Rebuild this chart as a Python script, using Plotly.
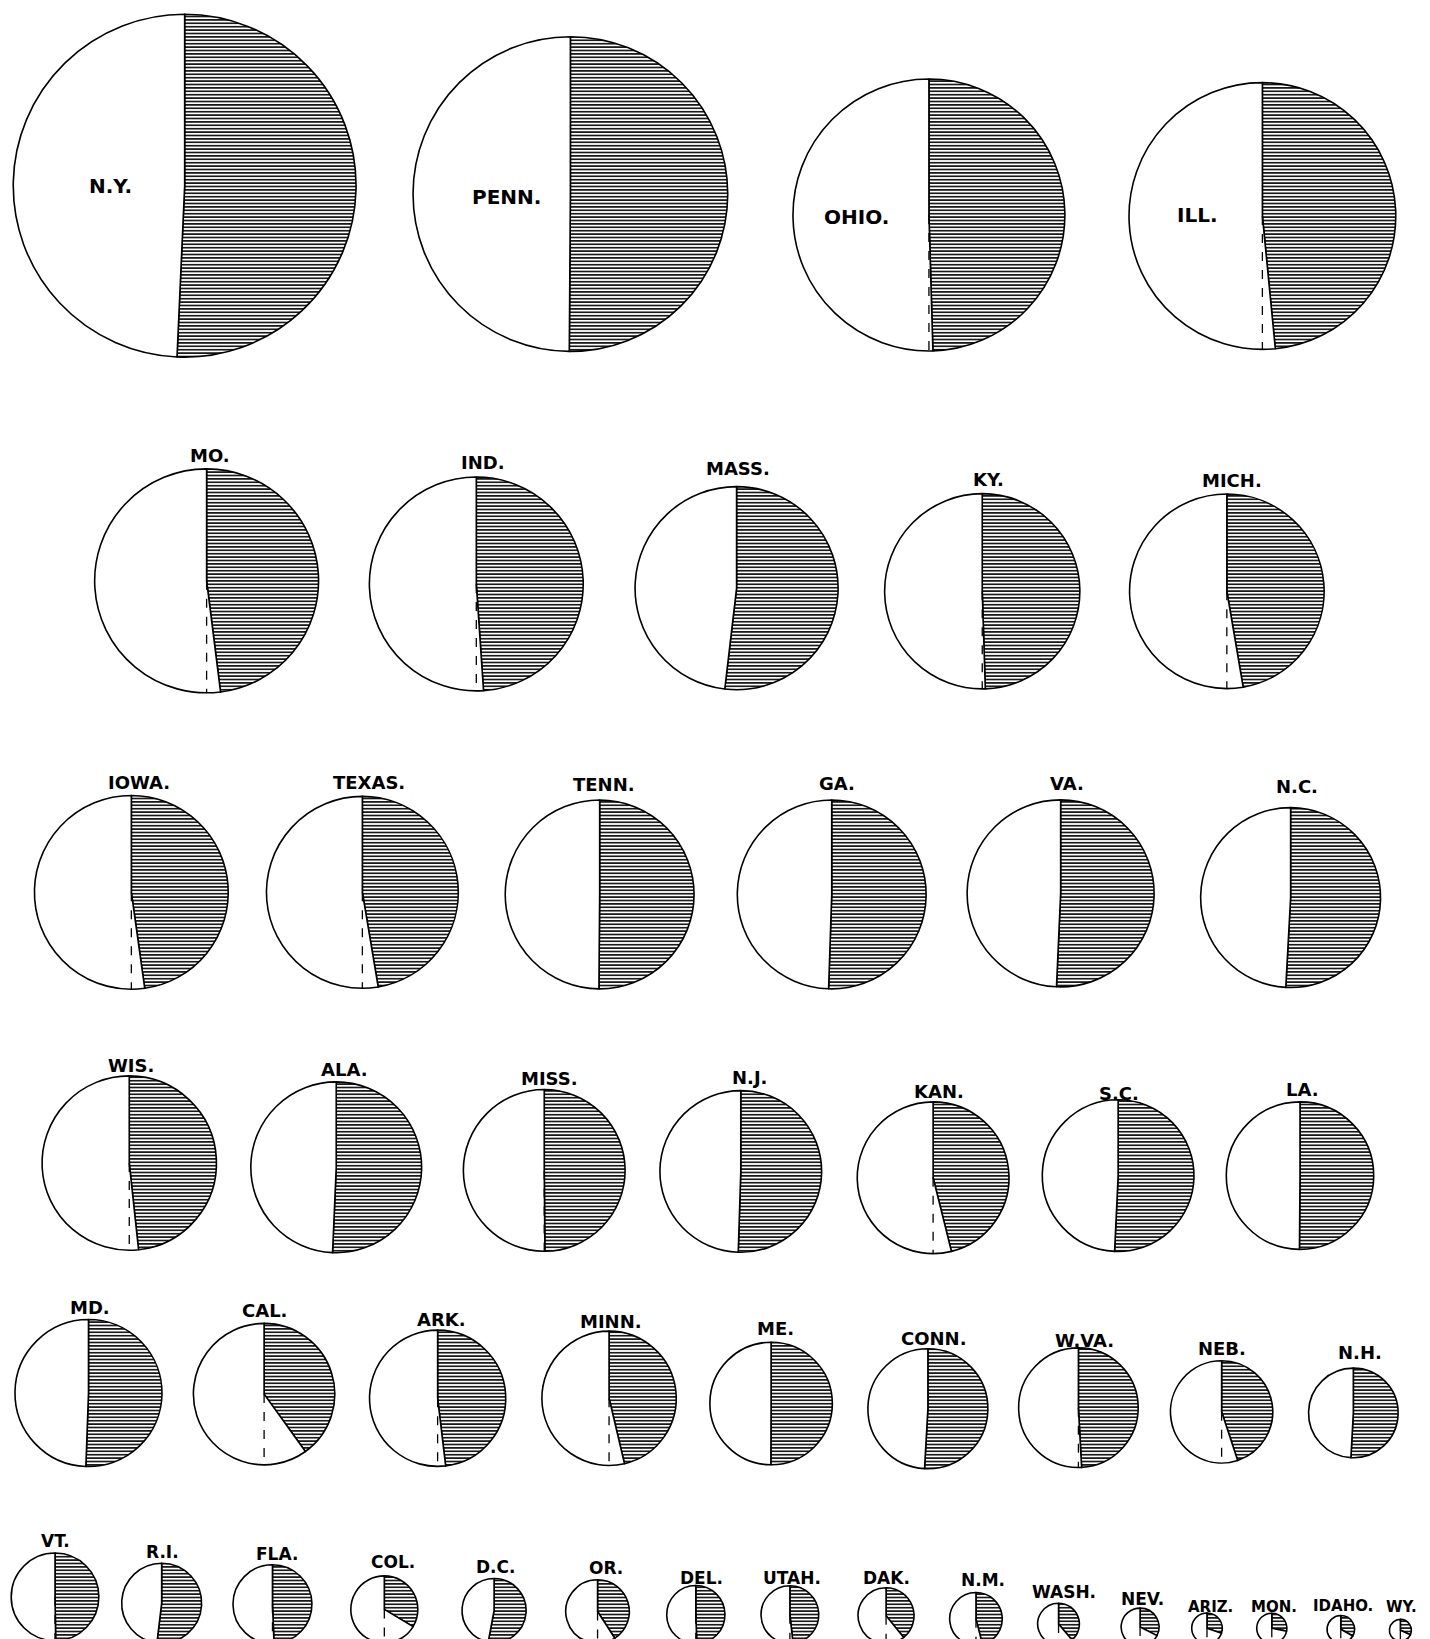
import plotly.graph_objects as go
import math

# ---- data (1880 census, thousands) ----
states = ["N.Y.", "PENN.", "OHIO.", "ILL.", "MO.", "IND.", "MASS.", "KY.", "MICH.",
          "IOWA.", "TEXAS.", "TENN.", "GA.", "VA.", "N.C.",
          "WIS.", "ALA.", "MISS.", "N.J.", "KAN.", "S.C.", "LA.",
          "MD.", "CAL.", "ARK.", "MINN.", "ME.", "CONN.", "W.VA.", "NEB.", "N.H.",
          "VT.", "R.I.", "FLA.", "COL.", "D.C.", "OR.", "DEL.", "UTAH.", "DAK.", "N.M.",
          "WASH.", "NEV.", "ARIZ.", "MON.", "IDAHO.", "WY."]
male = [2505.3, 2136.7, 1613.9, 1586.5, 1127.2, 1010.4, 858.4, 832.6, 862.4,
        848.1, 837.8, 769.3, 763.0, 745.6, 687.9,
        680.1, 622.6, 567.2, 559.9, 536.7, 490.4, 468.8,
        462.2, 518.2, 416.3, 419.1, 324.1, 305.8, 314.5, 249.2, 170.5,
        166.9, 133.0, 136.4, 129.1, 83.6, 103.4, 74.1, 74.5, 82.3, 64.5,
        46.0, 42.0, 28.2, 28.2, 21.8, 14.2]
female = [2577.5, 2146.2, 1584.1, 1491.3, 1041.2, 967.9, 924.6, 816.1, 774.6,
          776.5, 753.9, 773.1, 779.2, 767.0, 711.8,
          635.4, 639.9, 564.4, 571.2, 459.4, 505.2, 471.2,
          472.8, 346.5, 386.2, 361.6, 324.9, 316.9, 304.0, 203.2, 176.5,
          165.4, 143.5, 133.0, 65.2, 94.0, 71.4, 72.5, 69.5, 52.9, 55.1,
          29.1, 20.2, 12.2, 11.0, 10.8, 6.6]

# ---- layout (positions in pixel units of a 1368-wide drawing) ----
cx = [169, 538, 881, 1200, 190, 448, 697, 932, 1166,
      118, 339, 566, 788, 1007, 1227,
      116, 314, 513, 701, 885, 1062, 1236,
      77, 245, 411, 575, 730, 880, 1024, 1161, 1287,
      45, 147, 253, 360, 465, 564, 658, 748, 840, 926, 1005, 1083, 1147, 1209, 1275, 1332]
cy = [170, 178, 198, 199, 548, 551, 555, 558, 558,
      846, 846, 848, 848, 847, 851,
      1105, 1109, 1112, 1113, 1119, 1117, 1117,
      1325, 1326, 1330, 1330, 1335, 1340, 1339, 1343, 1344,
      1520, 1526, 1527, 1532, 1533, 1534, 1537, 1537, 1538, 1541, 1546, 1550, 1550, 1550, 1551, 1552]
lx = [98, 477, 812, 1138, 193, 454, 698, 938, 1171,
      125, 345, 570, 793, 1013, 1233,
      118, 322, 518, 709, 891, 1063, 1238,
      78, 245, 415, 577, 734, 885, 1030, 1161, 1293,
      45, 148, 257, 368, 467, 572, 663, 750, 840, 933, 1010, 1085, 1150, 1211, 1277, 1333]
ly = [170, 181, 200, 198, 428, 435, 441, 451, 452,
      741, 741, 743, 742, 742, 745,
      1012, 1015, 1024, 1023, 1037, 1038, 1035,
      1243, 1246, 1255, 1257, 1263, 1273, 1275, 1282, 1286,
      1467, 1477, 1479, 1487, 1491, 1492, 1502, 1502, 1502, 1504, 1515, 1522, 1530, 1530, 1529, 1530]
fsize = [20] * 4 + [18] * 27 + [17] * 12 + [15] * 4

W, H = 1430, 1639
S = W / 1368.0
K = 2.30 * S  # px radius per sqrt(thousand persons)


def clamp(v):
    return min(1.0, max(0.0, v))


fig = go.Figure()
shapes = []
annotations = []
for i, name in enumerate(states):
    total = male[i] + female[i]
    r = K * math.sqrt(total)
    x = cx[i] * S
    y = min(cy[i] * S, H - r - 1.0)
    fig.add_trace(go.Pie(
        values=[female[i], male[i]],
        labels=["Female", "Male"],
        sort=False,
        direction="clockwise",
        rotation=0,
        textinfo="none",
        hovertemplate=name + " %{label}: %{value}k<extra></extra>",
        showlegend=False,
        marker=dict(
            colors=["white", "white"],
            line=dict(color="black", width=1.6),
            pattern=dict(shape=["-", ""], fgcolor="black", bgcolor="white",
                         size=3.4, solidity=0.45),
        ),
        domain=dict(x=[clamp((x - r) / W), clamp((x + r) / W)],
                    y=[clamp(1 - (y + r) / H), clamp(1 - (y - r) / H)]),
    ))
    if male[i] > female[i]:
        shapes.append(dict(type="line", xref="paper", yref="paper",
                           x0=x / W, x1=x / W, y0=1 - y / H, y1=1 - (y + r) / H,
                           line=dict(color="black", width=1.3, dash="dash")))
    annotations.append(dict(x=lx[i] * S / W, y=1 - ly[i] * S / H, xref="paper", yref="paper",
                            text="<b>" + name + "</b>", showarrow=False,
                            xanchor="center", yanchor="middle",
                            font=dict(family="DejaVu Sans", size=fsize[i], color="black")))

shapes.append(dict(type="line", xref="paper", yref="paper", x0=1422 / W, x1=1422 / W,
                   y0=0, y1=1, line=dict(color="black", width=2)))

fig.update_layout(width=W, height=H, margin=dict(l=0, r=0, t=0, b=0),
                  paper_bgcolor="white", plot_bgcolor="white",
                  shapes=shapes, annotations=annotations)
fig.write_html("out.html")
